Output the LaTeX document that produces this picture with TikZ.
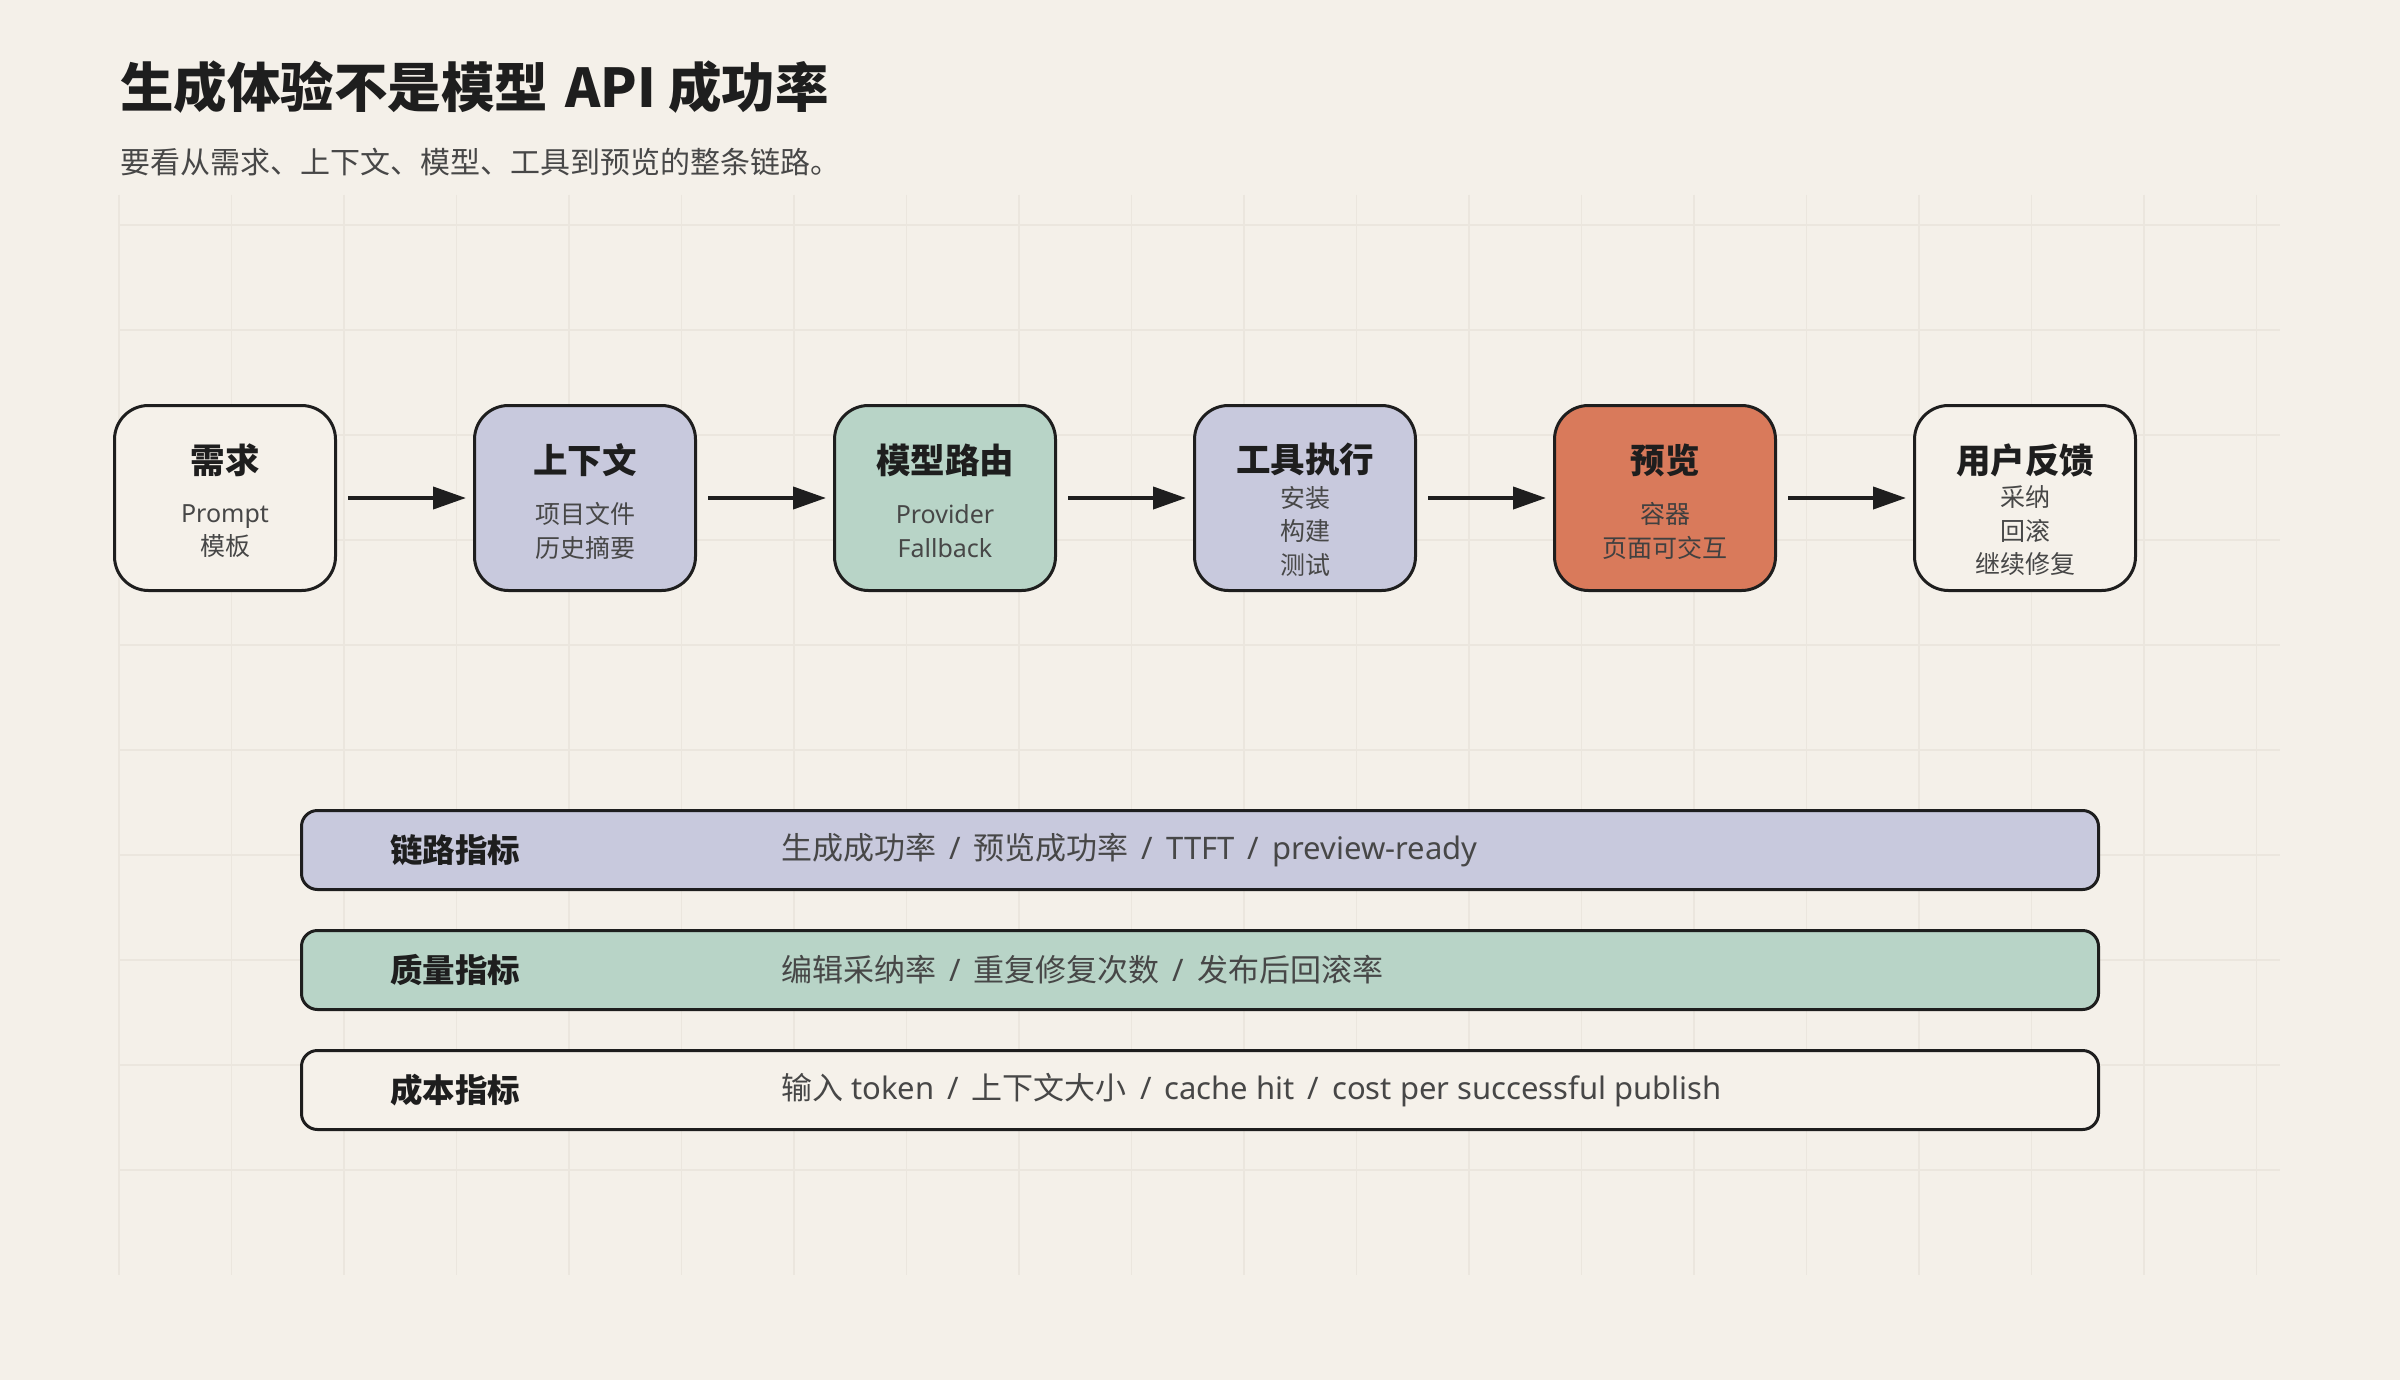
\documentclass[tikz,border=0pt]{standalone}
\usepackage{fontspec}
\setmainfont{Noto Sans CJK SC}
\newfontfamily\lat{Noto Sans}
\usetikzlibrary{arrows.meta}
\definecolor{bg}{HTML}{F4F0E9}
\definecolor{gridc}{HTML}{EBE6DE}
\definecolor{ink}{HTML}{1E1E1E}
\definecolor{soft}{HTML}{474747}
\definecolor{lav}{HTML}{C8C9DD}
\definecolor{mint}{HTML}{B8D4C7}
\definecolor{rust}{HTML}{D97A5B}
\definecolor{paper}{HTML}{F5F1EA}
\newcommand\slashsep{\hspace{0.42em}{\lat /}\hspace{0.42em}}
\tikzset{
  stage/.style={draw=ink, line width=3pt, rounded corners=34pt, minimum width=221pt, minimum height=185pt, inner sep=0pt},
  stagetitle/.style={text=ink, font=\fontsize{34.5}{40}\selectfont\bfseries, inner sep=0pt},
  stagesub/.style={text=soft, font=\fontsize{25}{33.5}\selectfont, align=center, inner sep=0pt},
  flow/.style={draw=ink, line width=4pt, -{Triangle[length=33pt,width=22pt]}, shorten <=11pt, shorten >=7pt},
  metric/.style={draw=ink, line width=3pt, rounded corners=16pt, minimum width=1797pt, minimum height=79pt, inner sep=0pt},
  metriclabel/.style={anchor=west, text=ink, font=\fontsize{32.5}{38}\selectfont\bfseries, inner sep=0pt},
  metricvalue/.style={anchor=west, text=soft, font=\fontsize{31}{38}\selectfont, inner sep=0pt},
}
\begin{document}
\begin{tikzpicture}[x=1pt,y=-1pt]
\fill[bg] (0,0) rectangle (2400,1380);
\useasboundingbox (0,0) rectangle (2400,1380);
% grid
\foreach \i in {0,...,19} \draw[gridc, line width=1.6pt] ({119+112.5*\i},195) -- ({119+112.5*\i},1275);
\foreach \j in {0,...,9} \draw[gridc, line width=1.6pt] (119,{225+105*\j}) -- (2280,{225+105*\j});
% title
\node[anchor=base west, inner sep=0pt, text=ink, font=\fontsize{53.5}{60}\selectfont\bfseries] (title) at (120,108) {生成体验不是模型\hspace{0.32em}API 成功率};
\node[anchor=base west, inner sep=0pt, text=soft, font=\fontsize{30}{36}\selectfont] (subtitle) at (120,174) {要看从需求、上下文、模型、工具到预览的整条链路。};
% stages
\node[stage, fill=paper] (s1) at (225,498) {};
\node[stage, fill=lav] (s2) at (585,498) {};
\node[stage, fill=mint] (s3) at (945,498) {};
\node[stage, fill=lav] (s4) at (1305,498) {};
\node[stage, fill=rust] (s5) at (1665,498) {};
\node[stage, fill=paper] (s6) at (2025,498) {};
\node[stagetitle] (t1) at (225,460) {需求};
\node[stagetitle] (t2) at (585,460) {上下文};
\node[stagetitle] (t3) at (945,460) {模型路由};
\node[stagetitle] (t4) at (1305,460) {工具执行};
\node[stagetitle] (t5) at (1665,460) {预览};
\node[stagetitle] (t6) at (2025,460) {用户反馈};
\node[stagesub] (u1) at (225,531) {{\lat Prompt}\\模板};
\node[stagesub] (u2) at (585,531) {项目文件\\历史摘要};
\node[stagesub] (u3) at (945,531) {{\lat Provider}\\{\lat Fallback}};
\node[stagesub] (u4) at (1305,531) {安装\\构建\\测试};
\node[stagesub, text=ink!85] (u5) at (1665,531) {容器\\页面可交互};
\node[stagesub] (u6) at (2025,531) {采纳\\回滚\\继续修复};
\draw[flow] (s1) -- (s2);
\draw[flow] (s2) -- (s3);
\draw[flow] (s3) -- (s4);
\draw[flow] (s4) -- (s5);
\draw[flow] (s5) -- (s6);
% metrics
\node[metric, fill=lav] (m1) at (1200,850) {};
\node[metric, fill=mint] (m2) at (1200,970) {};
\node[metric, fill=paper] (m3) at (1200,1090) {};
\node[metriclabel] (l1) at (390,850) {链路指标};
\node[metriclabel] (l2) at (390,970) {质量指标};
\node[metriclabel] (l3) at (390,1090) {成本指标};
\node[metricvalue] (v1) at (781,850) {生成成功率\slashsep 预览成功率\slashsep {\lat TTFT}\slashsep {\lat preview-ready}};
\node[metricvalue] (v2) at (781,970) {编辑采纳率\slashsep 重复修复次数\slashsep 发布后回滚率};
\node[metricvalue] (v3) at (781,1090) {输入{\lat\ token}\slashsep 上下文大小\slashsep {\lat cache hit}\slashsep {\lat cost per successful publish}};
\end{tikzpicture}
\end{document}
